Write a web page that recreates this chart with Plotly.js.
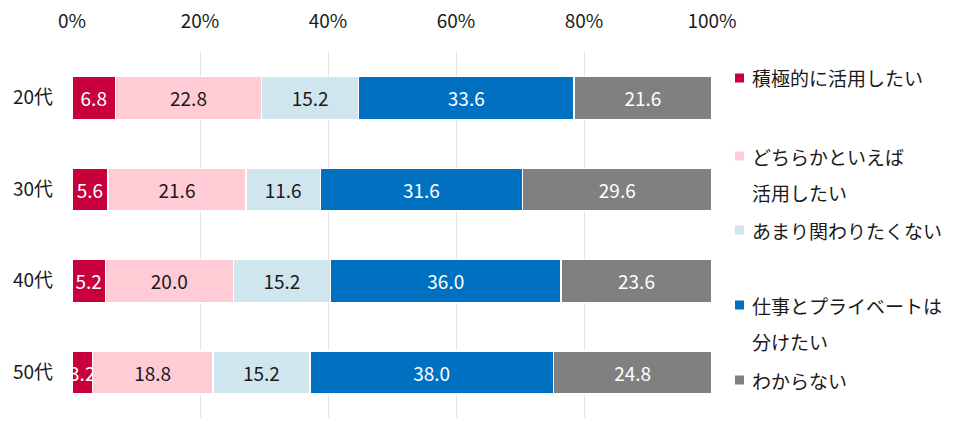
<!DOCTYPE html>
<html>
<head>
<meta charset="utf-8">
<script src="https://cdn.plot.ly/plotly-3.0.1.min.js"></script>
<style>html,body{margin:0;padding:0;background:#fff;}#chart{width:957px;height:430px;}</style>
</head>
<body>
<div id="chart"></div>
<script>
// ---- data ----
const categories = ['20代', '30代', '40代', '50代'];
const seriesNames = ['積極的に活用したい', 'どちらかといえば活用したい', 'あまり関わりたくない', '仕事とプライベートは分けたい', 'わからない'];
const legendLines = [['積極的に活用したい'], ['どちらかといえば', '活用したい'], ['あまり関わりたくない'], ['仕事とプライベートは', '分けたい'], ['わからない']];
const activeUse   = [6.8, 5.6, 5.2, 3.2];
const ratherUse   = [22.8, 21.6, 20.0, 18.8];
const avoid       = [15.2, 11.6, 15.2, 15.2];
const separate    = [33.6, 31.6, 36.0, 38.0];
const unknown     = [21.6, 29.6, 23.6, 24.8];
const xTickVals   = [0, 20, 40, 60, 80, 100];
const xTickText   = ['0%', '20%', '40%', '60%', '80%', '100%'];

// ---- styles ----
const seriesValues = [activeUse, ratherUse, avoid, separate, unknown];
const colors = ['#C8003C', '#FFCCD6', '#D0E6EE', '#0070C0', '#808080'];
const textColors = ['#ffffff', '#1a1a1a', '#1a1a1a', '#ffffff', '#ffffff'];
const FONT = '"Noto Sans CJK JP", "Noto Sans", sans-serif';
const FS = 19;

const W = 957, H = 430;
const M = {l: 72, r: 245, t: 52, b: 12};
const PW = W - M.l - M.r, PH = H - M.t - M.b;
const px2x = p => (p - M.l) / PW;
const px2y = p => (H - M.b - p) / PH;

const traces = seriesValues.map((vals, i) => ({
  type: 'bar',
  orientation: 'h',
  name: seriesNames[i],
  y: categories,
  x: vals,
  text: vals.map(v => v.toFixed(1)),
  textposition: 'inside',
  insidetextanchor: 'middle',
  textangle: 0,
  constraintext: 'none',
  textfont: {family: FONT, size: FS, color: textColors[i]},
  marker: {color: colors[i], line: {color: '#ffffff', width: 1.5}},
  hoverinfo: 'skip',
  showlegend: false
}));

// custom legend (fixed spacing as in reference)
const legendTop = [78, 156, 230, 305, 380];
const lineGap = 36;
const annotations = [];
const shapes = [];
legendLines.forEach((lines, i) => {
  const y0 = legendTop[i];
  shapes.push({type: 'rect', xref: 'paper', yref: 'paper',
    x0: px2x(735), x1: px2x(744), y0: px2y(y0 + 4.5), y1: px2y(y0 - 4.5),
    fillcolor: colors[i], line: {width: 0}});
  lines.forEach((t, j) => {
    annotations.push({xref: 'paper', yref: 'paper', x: px2x(750), y: px2y(y0 + j * lineGap),
      xanchor: 'left', yanchor: 'middle', text: t, showarrow: false,
      font: {family: FONT, size: FS, color: '#1a1a1a'}});
  });
});

const layout = {
  width: W, height: H,
  margin: M,
  barmode: 'stack',
  bargap: 0.53,
  paper_bgcolor: '#ffffff',
  plot_bgcolor: '#ffffff',
  font: {family: FONT, size: FS, color: '#1a1a1a'},
  xaxis: {
    range: [0, 100], side: 'top', tickvals: xTickVals, ticktext: xTickText,
    showgrid: true, gridcolor: '#e3e3e3', gridwidth: 1, zeroline: false, showline: false,
    ticks: '', ticklabelstandoff: 19, fixedrange: true,
    tickfont: {family: FONT, size: FS, color: '#1a1a1a'}
  },
  yaxis: {
    type: 'category', autorange: 'reversed', showgrid: false, zeroline: false, showline: false,
    ticks: '', ticklabelstandoff: 18, fixedrange: true,
    tickfont: {family: FONT, size: FS, color: '#1a1a1a'}
  },
  shapes: shapes,
  annotations: annotations,
  showlegend: false
};

Plotly.newPlot('chart', traces, layout, {displayModeBar: false, staticPlot: true});
</script>
</body>
</html>
